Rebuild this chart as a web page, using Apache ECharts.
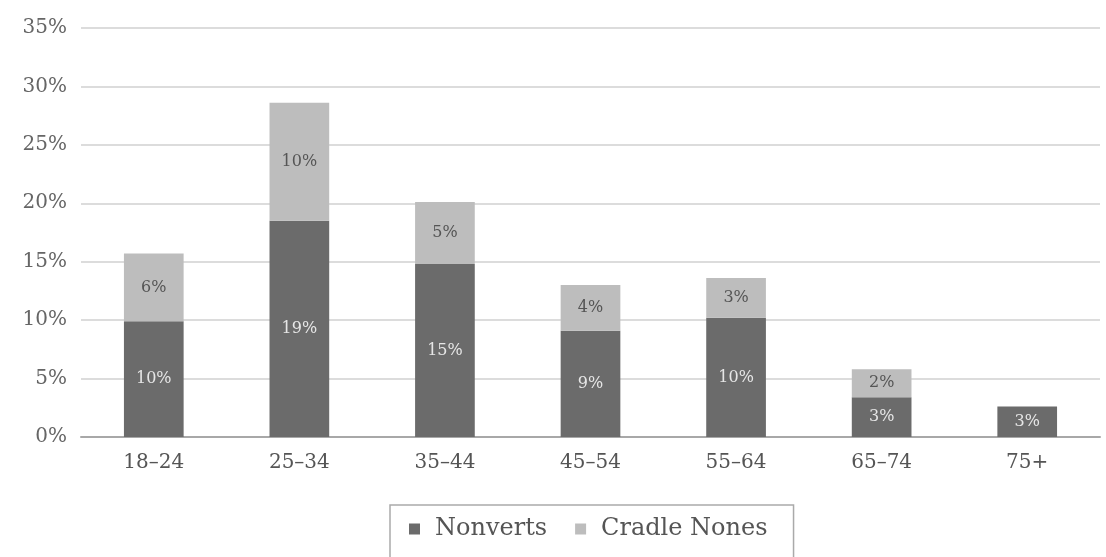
<!DOCTYPE html>
<html>
<head>
<meta charset="utf-8">
<script src="https://cdn.jsdelivr.net/npm/echarts@6/dist/echarts.min.js"></script>
<style>html,body{margin:0;padding:0;background:#fff}#c{width:1106px;height:557px}</style>
</head>
<body>
<div id="c"></div>
<script>
const categories = ['18–24', '25–34', '35–44', '45–54', '55–64', '65–74', '75+'];
const nonverts = [9.9, 18.5, 14.8, 9.1, 10.2, 3.4, 2.6];
const cradleNones = [5.8, 10.1, 5.3, 3.9, 3.4, 2.4, 0];
const yTicks = [0, 5, 10, 15, 20, 25, 30, 35];

const font = 'DejaVu Serif';
const chart = echarts.init(document.getElementById('c'), null, {renderer: 'canvas'});
chart.setOption({
  animation: false,
  backgroundColor: '#fff',
  grid: {left: 81, right: 6, top: 28, bottom: 120},
  legend: {
    data: ['Nonverts', 'Cradle Nones'],
    left: 390, top: 505,
    padding: [12, 26, 30, 19],
    borderColor: '#aaa', borderWidth: 1.5,
    itemWidth: 11, itemHeight: 11, itemGap: 28,
    icon: 'rect',
    textStyle: {fontFamily: font, fontSize: 24, color: '#555', padding: [0, 0, 0, 10]}
  },
  xAxis: {
    type: 'category', data: categories,
    axisLine: {lineStyle: {color: '#a8a8a8', width: 2}},
    axisTick: {show: false},
    axisLabel: {fontFamily: font, fontSize: 20, color: '#555', margin: 16}
  },
  yAxis: {
    type: 'value', min: yTicks[0], max: yTicks[yTicks.length - 1], interval: 5,
    axisLabel: {fontFamily: font, fontSize: 20, color: '#666', margin: 14, formatter: '{value}%'},
    splitLine: {lineStyle: {color: '#dcdcdc', width: 2}},
    axisLine: {show: false}, axisTick: {show: false}
  },
  series: [
    {
      name: 'Nonverts', type: 'bar', stack: 'a', data: nonverts, barWidth: '41%',
      itemStyle: {color: '#6b6b6b'},
      label: {show: true, position: 'inside', fontFamily: font, fontSize: 16, color: '#e6e6e6',
        formatter: p => p.value > 0 ? Math.round(p.value) + '%' : ''}
    },
    {
      name: 'Cradle Nones', type: 'bar', stack: 'a', data: cradleNones, barWidth: '41%',
      itemStyle: {color: '#bdbdbd'},
      label: {show: true, position: 'inside', fontFamily: font, fontSize: 16, color: '#555',
        formatter: p => p.value > 0 ? Math.round(p.value) + '%' : ''}
    }
  ]
});
</script>
</body>
</html>
